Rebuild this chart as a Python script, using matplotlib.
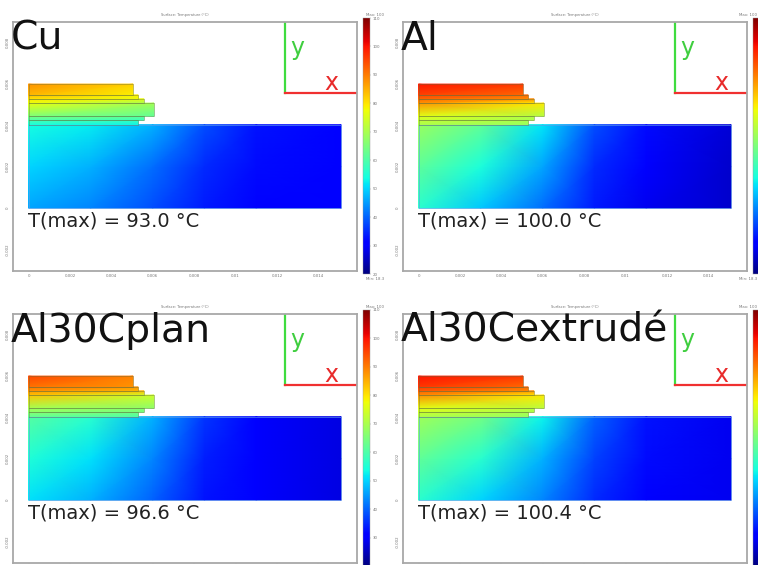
import matplotlib.pyplot as plt
import numpy as np

W, H = 758, 565

panel_names = ["Cu", "Al", "Al30Cplan", "Al30Cextrudé"]
tmax_labels = ["T(max) = 93.0 °C", "T(max) = 100.0 °C", "T(max) = 96.6 °C", "T(max) = 100.4 °C"]

# base plate (bottom, middle, top rows)
base_x = [0, 0.003, 0.006, 0.0085, 0.011, 0.0151]
base_y = [0, 0.002, 0.00403]
base_cu = [[46, 43, 38, 33.5, 31.5, 30], [50, 47, 41, 35, 32, 30], [54, 52, 47, 38, 33, 30]]
base_al = [[56, 49, 41, 33.5, 29, 26], [61.5, 54.5, 46, 35, 30, 26], [68.5, 62, 51.5, 38, 32, 27]]
base_plan = [[51, 47, 40, 33, 30, 28], [55, 51, 43, 34, 30, 28], [61, 56, 47, 36, 31, 28]]
base_extr = [[56, 50, 43, 35, 31, 29], [62, 56, 47, 37, 32, 29], [69, 64, 53, 40, 33, 29]]

# stacked layers, listed from the plate upwards
stack_y = [0.00403, 0.00425, 0.00444, 0.00507, 0.00527, 0.00546, 0.00599]
stack_right = [0.0053, 0.00558, 0.00606, 0.00558, 0.0053, 0.00505]
left_cu = [54, 60, 65, 77, 80, 84, 88]
right_cu = [53, 58, 62, 69.5, 77, 79, 82]
left_al = [70, 73, 76, 87.5, 92, 95.5, 99.5]
right_al = [68, 70, 71, 79.5, 88.5, 92, 96.5]
left_plan = [62, 67, 69.5, 83, 87.5, 91, 95]
right_plan = [60, 64, 67, 74, 84, 87.5, 89.5]
left_extr = [70, 74, 76, 88.5, 93, 96.5, 100]
right_extr = [68, 70, 72, 79.5, 88.5, 92, 96.5]

x_ticks = [0, 0.002, 0.004, 0.006, 0.008, 0.01, 0.012, 0.014]
x_tick_labels = ["0", "0.002", "0.004", "0.006", "0.008", "0.01", "0.012", "0.014"]
y_ticks = [-0.002, 0, 0.002, 0.004, 0.006, 0.008]
bar_ticks = [110, 100, 90, 80, 70, 60, 50, 40, 30, 20]

base_values = [base_cu, base_al, base_plan, base_extr]
left_values = [left_cu, left_al, left_plan, left_extr]
right_values = [right_cu, right_al, right_plan, right_extr]

# top-left corner offset of each panel in pixels
offsets = [(0, 0), (390, 0), (0, 292), (390, 292)]


def pixel_axes(fig, left, top, right, bottom):
    return fig.add_axes([left / W, 1 - bottom / H, (right - left) / W, (bottom - top) / H])


def draw_panel(fig, i):
    dx, dy = offsets[i]
    bottom_row = dy > 0
    right_col = dx > 0

    ax = pixel_axes(fig, 13 + dx, 22 + dy, 357 + dx, 271 + dy)
    ax.set_xlim(-0.00075, 0.01587)
    ax.set_ylim(-0.00304, 0.00899)

    X, Y = np.meshgrid(base_x, base_y)
    mesh = ax.pcolormesh(X, Y, np.array(base_values[i]), shading="gouraud",
                         cmap="jet", vmin=20, vmax=110)
    ax.plot([0, 0.0151, 0.0151, 0, 0], [0, 0, 0.00403, 0.00403, 0],
            color="#5f9fe8", lw=0.6, alpha=0.7)

    for k, r in enumerate(stack_right):
        lx = np.array([[0, r], [0, r]])
        ly = np.array([[stack_y[k], stack_y[k]], [stack_y[k + 1], stack_y[k + 1]]])
        c = np.array([[left_values[i][k], right_values[i][k]],
                      [left_values[i][k + 1], right_values[i][k + 1]]])
        ax.pcolormesh(lx, ly, c, shading="gouraud", cmap="jet", vmin=20, vmax=110)
        ax.plot([0, r, r, 0, 0],
                [stack_y[k], stack_y[k], stack_y[k + 1], stack_y[k + 1], stack_y[k]],
                color="#607040", lw=0.5, alpha=0.55)

    for side in ax.spines.values():
        side.set_color("#a8a8a8")
        side.set_linewidth(1.3)

    ax.set_xticks(x_ticks)
    # the bottom row runs off the canvas, its x labels are not visible there
    ax.set_xticklabels(x_tick_labels if not bottom_row else [])
    ax.set_yticks(y_ticks)
    ax.set_yticklabels([f"{v:g}" for v in y_ticks], rotation=90, va="center")
    ax.tick_params(labelsize=2.8, length=1, width=0.3, color="#999999",
                   labelcolor="#777777", pad=1.5)
    ax.set_title("Surface: Temperature (°C)", fontsize=2.6, color="#777777", pad=4.5)

    # coordinate system drawn over the plot
    ax.plot([0.79, 0.79], [0.713, 1], transform=ax.transAxes, color="#3fdc3f", lw=1.6)
    ax.plot([0.79, 1], [0.713, 0.713], transform=ax.transAxes, color="#f03030", lw=1.6)
    ax.text(0.805, 0.895, "y", transform=ax.transAxes, color="#3fce3f", fontsize=17,
            ha="left", va="center")
    ax.text(0.905, 0.757, "x", transform=ax.transAxes, color="#e82a2a", fontsize=17,
            ha="left", va="center")

    ax.text(-0.006, 0.888, panel_names[i], transform=ax.transAxes, color="#111111",
            fontsize=28.3, ha="left", va="baseline")
    ax.text(0.044, 0.177, tmax_labels[i], transform=ax.transAxes, color="#222222",
            fontsize=14, ha="left", va="baseline")

    cax = pixel_axes(fig, 363 + dx, 18 + dy, 370 + dx, 274 + dy)
    bar = fig.colorbar(mesh, cax=cax)
    if right_col:
        bar.set_ticks([])
    elif bottom_row:
        bar.set_ticks(bar_ticks[:-1])
    else:
        bar.set_ticks(bar_ticks)
    bar.ax.tick_params(labelsize=2.8, length=1, width=0.3, color="#999999",
                       labelcolor="#777777", pad=1)
    bar.outline.set_linewidth(0.3)
    bar.outline.set_edgecolor("#999999")

    # right column labels are pulled in so they stay on the canvas
    lx = (W - 1) / W if right_col else (366 + dx) / W
    ha = "right" if right_col else "left"
    fig.text(lx, 1 - (15 + dy) / H, "Max: 100", fontsize=2.8, color="#777777",
             ha=ha, va="center")
    if not bottom_row:
        fig.text(lx, 1 - 279 / H, "Min: 18.3", fontsize=2.8, color="#777777",
                 ha=ha, va="center")


def main():
    fig = plt.figure(figsize=(W / 100, H / 100), dpi=100)
    for i in range(4):
        draw_panel(fig, i)
    fig.savefig("out.png", dpi=100)


if __name__ == "__main__":
    main()
